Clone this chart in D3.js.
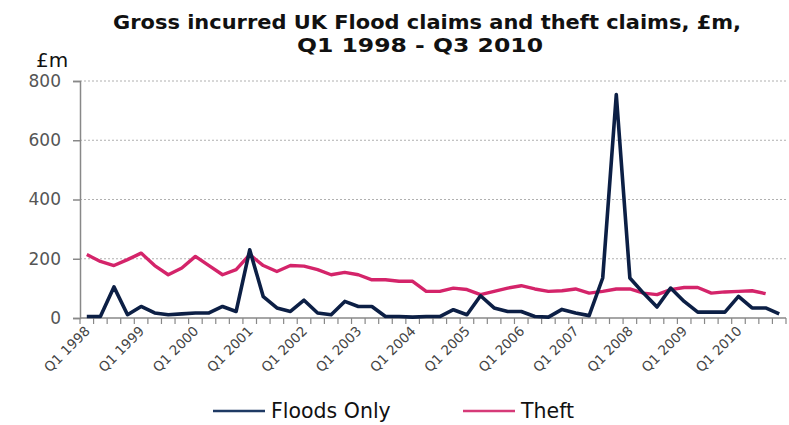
<!DOCTYPE html>
<html>
<head>
<meta charset="utf-8">
<script src="https://cdn.jsdelivr.net/npm/d3@7"></script>
<style>
    body { margin: 0; background: #fff; }
    text { font-family: "DejaVu Sans", Verdana, sans-serif; }
</style>
</head>
<body>
<div id="chart"></div>
<script>
// quarters Q1 1998 .. Q4 2010
var years = d3.range(1998, 2011);
var quarters = [];
years.forEach(function(y) {
    [1, 2, 3, 4].forEach(function(q) { quarters.push("Q" + q + " " + y); });
});

var floods = [5, 5, 105, 11, 39, 17, 11, 14, 17, 17,
              39, 22, 230, 72, 34, 22, 60, 17, 11, 56,
              39, 39, 5, 5, 3, 5, 5, 28, 11, 75,
              34, 22, 22, 5, 3, 29, 17, 8, 135, 754,
              135, 84, 37, 101, 56, 20, 20, 20, 73, 34,
              34, 14];

var theft = [214, 191, 177, 197, 219, 177, 146, 169, 208, 177,
             146, 163, 214, 177, 157, 177, 175, 163, 146, 154,
             146, 129, 129, 124, 124, 90, 90, 101, 96, 79,
             90, 101, 109, 98, 90, 92, 98, 84, 90, 98,
             98, 84, 79, 96, 103, 103, 84, 88, 90, 92,
             82];

var yTicks = [0, 200, 400, 600, 800];

function init() {
    var w = 789;
    var h = 425;
    var left = 80, right = 786, top = 81, bottom = 318;

    var svg = d3.select("#chart")
        .append("svg")
        .attr("width", w)
        .attr("height", h);

    var xScale = d3.scaleBand()
        .domain(quarters)
        .range([left, right]);

    var yScale = d3.scaleLinear()
        .domain([0, 800])
        .range([bottom, top]);

    // title
    svg.append("text")
        .attr("x", 113)
        .attr("y", 29)
        .attr("font-size", 20)
        .attr("font-weight", "bold")
        .attr("fill", "#111")
        .attr("textLength", 628)
        .attr("lengthAdjust", "spacingAndGlyphs")
        .text("Gross incurred UK Flood claims and theft claims, £m,");
    svg.append("text")
        .attr("x", 297)
        .attr("y", 52)
        .attr("font-size", 20)
        .attr("font-weight", "bold")
        .attr("fill", "#111")
        .attr("textLength", 246)
        .attr("lengthAdjust", "spacingAndGlyphs")
        .text("Q1 1998 - Q3 2010");

    svg.append("text")
        .attr("x", 36)
        .attr("y", 67)
        .attr("font-size", 20)
        .attr("fill", "#111")
        .text("£m");

    // gridlines
    svg.selectAll(".grid")
        .data(yTicks.slice(1))
        .enter()
        .append("line")
        .attr("class", "grid")
        .attr("x1", left)
        .attr("x2", right)
        .attr("y1", function(d) { return yScale(d); })
        .attr("y2", function(d) { return yScale(d); })
        .attr("stroke", "#b0b0b0")
        .attr("stroke-width", 1)
        .attr("stroke-dasharray", "2,2");

    // y axis
    var yAxis = d3.axisLeft(yScale)
        .tickValues(yTicks)
        .tickSize(7)
        .tickPadding(12);

    var gy = svg.append("g")
        .attr("transform", "translate(" + left + ",0)")
        .call(yAxis);
    gy.select(".domain").attr("stroke", "#888").attr("stroke-width", 1.5);
    gy.selectAll(".tick line").attr("stroke", "#888").attr("stroke-width", 1.5);
    gy.selectAll(".tick text")
        .attr("font-size", 17)
        .attr("fill", "#555")
        .style("font-family", "DejaVu Sans, sans-serif");

    // x axis line and ticks between categories
    svg.append("line")
        .attr("x1", left)
        .attr("x2", right)
        .attr("y1", bottom)
        .attr("y2", bottom)
        .attr("stroke", "#888")
        .attr("stroke-width", 1.5);

    svg.selectAll(".xtick")
        .data(quarters.concat(["end"]))
        .enter()
        .append("line")
        .attr("class", "xtick")
        .attr("x1", function(d, i) { return left + i * xScale.step(); })
        .attr("x2", function(d, i) { return left + i * xScale.step(); })
        .attr("y1", bottom)
        .attr("y2", bottom + 6)
        .attr("stroke", "#888")
        .attr("stroke-width", 1.2);

    svg.selectAll(".xlabel")
        .data(quarters.filter(function(d) { return d.indexOf("Q1") === 0; }))
        .enter()
        .append("text")
        .attr("class", "xlabel")
        .attr("text-anchor", "end")
        .attr("font-size", 13.5)
        .attr("fill", "#444")
        .attr("transform", function(d) {
            var x = xScale(d) + xScale.bandwidth() / 2 + 4;
            return "translate(" + x + "," + (bottom + 14) + ") rotate(-45)";
        })
        .text(function(d) { return d; });

    // lines
    var line = d3.line()
        .x(function(d, i) { return xScale(quarters[i]) + xScale.bandwidth() / 2; })
        .y(function(d) { return yScale(d); });

    svg.append("path")
        .datum(theft)
        .attr("d", line)
        .attr("fill", "none")
        .attr("stroke", "#d4246a")
        .attr("stroke-width", 3.4)
        .attr("stroke-linejoin", "round");

    svg.append("path")
        .datum(floods)
        .attr("d", line)
        .attr("fill", "none")
        .attr("stroke", "#0c1f45")
        .attr("stroke-width", 3.6)
        .attr("stroke-linejoin", "round");

    // legend
    var legend = [
        { name: "Floods Only", color: "#1f3a64", x: 213 },
        { name: "Theft", color: "#d63a78", x: 463 }
    ];
    var lg = svg.selectAll(".legend")
        .data(legend)
        .enter()
        .append("g")
        .attr("class", "legend")
        .attr("transform", function(d) { return "translate(" + d.x + ",411)"; });
    lg.append("line")
        .attr("x1", 0)
        .attr("x2", 52)
        .attr("stroke", function(d) { return d.color; })
        .attr("stroke-width", 2.5);
    lg.append("text")
        .attr("x", 58)
        .attr("y", 7)
        .attr("font-size", 20.5)
        .attr("fill", "#111")
        .text(function(d) { return d.name; });
}

window.onload = init;
</script>
</body>
</html>
